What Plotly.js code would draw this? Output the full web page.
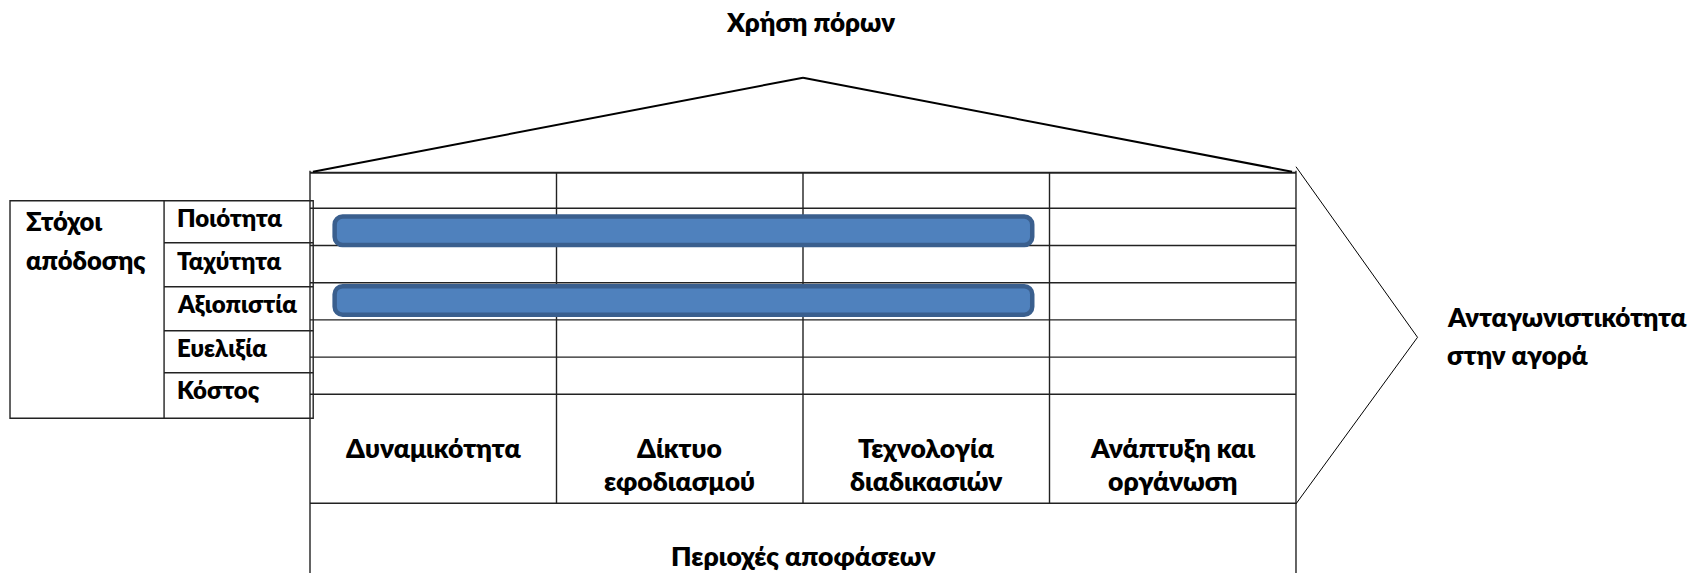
<!DOCTYPE html>
<html>
<head>
<meta charset="utf-8">
<script src="https://cdn.plot.ly/plotly-3.0.1.min.js"></script>
<style>html,body{margin:0;padding:0;background:#fff;}#chart{width:1704px;height:573px;}</style>
</head>
<body>
<div id="chart"></div>
<script>
// ---------- data ----------
const objectives = ['Ποιότητα', 'Ταχύτητα', 'Αξιοπιστία', 'Ευελιξία', 'Κόστος'];
const decisionAreas = ['Δυναμικότητα', 'Δίκτυο<br>εφοδιασμού', 'Τεχνολογία<br>διαδικασιών', 'Ανάπτυξη και<br>οργάνωση'];
const barObjectives = ['Ποιότητα', 'Αξιοπιστία'];
const barStart = [0.1, 0.1];     // in decision-area columns
const barEnd = [2.93, 2.93];
const topLabel = 'Χρήση πόρων';
const bottomLabel = 'Περιοχές αποφάσεων';
const leftLabel = 'Στόχοι<br>απόδοσης';
const rightLabel = 'Ανταγωνιστικότητα<br>στην αγορά';

// ---------- geometry (axis units: 1 x-unit = one column, 1 y-unit = one objective row) ----------
const nCols = decisionAreas.length;
const nRows = objectives.length;
const G = {
  xRange: [-1.2576, 5.6552],
  yRange: [9.804, -5.6],
  tableTop: -0.957,
  labelRowBottom: 7.93,
  roofBaseY: -0.984, roofApexY: -3.51, roofLeftX: 0.012, roofRightX: 3.984,
  chevTopY: -1.118, chevTipX: 4.493, chevTipY: 3.468, chevBotY: 7.946,
  leftBoxL: -1.217, leftBoxDiv: -0.592, leftBoxR: 0.013,
  leftRowEdges: [-0.204, 0.925, 2.108, 3.29, 4.42, 5.645],
  rowLabelY: [0.25, 1.39, 2.57, 3.73, 4.88],
  colLabelY1: 6.45, colLabelY2: 7.34,
  bottomLabelY: 9.34, topLabelY: -5.02, topLabelX: 2.03,
  rightLabelX: 4.604, rightLabelY: [2.93, 3.93],
  leftLabelX: -1.16, leftLabelY2: [0.33, 1.38],
  rowLabelX: -0.546,
  barOffset: [-0.28, -0.407], barWidth: 0.766
};
const FONT = 'Lato, "Open Sans", "Noto Sans", sans-serif';
const W = 800;
const lineCol = '#222';

const shapes = [];
function seg(x0, y0, x1, y1, w, c) {
  shapes.push({type: 'line', xref: 'x', yref: 'y', x0, y0, x1, y1, layer: 'below',
    line: {color: c || lineCol, width: w || 1.4}});
}
// main table horizontal lines
seg(0, G.tableTop, nCols, G.tableTop, 2);
for (let r = 0; r <= nRows; r++) seg(0, r, nCols, r);
seg(0, G.labelRowBottom, nCols, G.labelRowBottom);
// verticals
seg(0, -1.01, 0, G.yRange[0]);
seg(nCols, -1.01, nCols, G.yRange[0]);
for (let c = 1; c < nCols; c++) seg(c, G.tableTop, c, G.labelRowBottom);
// roof
seg(G.roofLeftX, G.roofBaseY, nCols / 2, G.roofApexY, 2, '#000');
seg(nCols / 2, G.roofApexY, G.roofRightX, G.roofBaseY, 2, '#000');
// chevron
seg(nCols, G.chevTopY, G.chevTipX, G.chevTipY, 1, '#000');
seg(G.chevTipX, G.chevTipY, nCols, G.chevBotY, 1, '#000');
// left box
const e = G.leftRowEdges;
shapes.push({type: 'rect', xref: 'x', yref: 'y', x0: G.leftBoxL, x1: G.leftBoxR, y0: e[0], y1: e[e.length - 1],
  layer: 'below', line: {color: lineCol, width: 1.4}, fillcolor: 'rgba(0,0,0,0)'});
seg(G.leftBoxDiv, e[0], G.leftBoxDiv, e[e.length - 1]);
for (let i = 1; i < e.length - 1; i++) seg(G.leftBoxDiv, e[i], G.leftBoxR, e[i]);

// ---------- annotations ----------
const ann = [];
function txt(text, x, y, size, xanchor) {
  ann.push({text, x, y, xref: 'x', yref: 'y', showarrow: false, xanchor: xanchor || 'center', yanchor: 'middle',
    font: {family: FONT, size, color: '#000', weight: W}});
}
txt(topLabel, G.topLabelX, G.topLabelY, 26);
txt(bottomLabel, nCols / 2, G.bottomLabelY, 26.5);
leftLabel.split('<br>').forEach((s, i) => txt(s, G.leftLabelX, G.leftLabelY2[i], 25.5, 'left'));
rightLabel.split('<br>').forEach((s, i) => txt(s, G.rightLabelX, G.rightLabelY[i], 26, 'left'));
objectives.forEach((o, i) => txt(o, G.rowLabelX, G.rowLabelY[i], 24, 'left'));
decisionAreas.forEach((d, c) => {
  d.split('<br>').forEach((s, k) => txt(s, c + 0.5, k === 0 ? G.colLabelY1 : G.colLabelY2, 26.5));
});

// ---------- bars ----------
const bars = {
  type: 'bar', orientation: 'h',
  y: barObjectives.map(o => objectives.indexOf(o) + 0.5),
  base: barStart,
  x: barEnd.map((v, i) => v - barStart[i]),
  width: G.barWidth,
  offset: G.barOffset,
  marker: {color: '#4F81BD', line: {color: '#3A5F8E', width: 4.5}, cornerradius: 8},
  hoverinfo: 'skip'
};

const layout = {
  width: 1704, height: 573,
  margin: {l: 0, r: 0, t: 0, b: 0},
  paper_bgcolor: '#fff', plot_bgcolor: '#fff',
  showlegend: false,
  xaxis: {range: G.xRange, visible: false, fixedrange: true},
  yaxis: {range: G.yRange, visible: false, fixedrange: true},
  shapes, annotations: ann
};
Plotly.newPlot('chart', [bars], layout, {staticPlot: true, displayModeBar: false});
</script>
</body>
</html>
